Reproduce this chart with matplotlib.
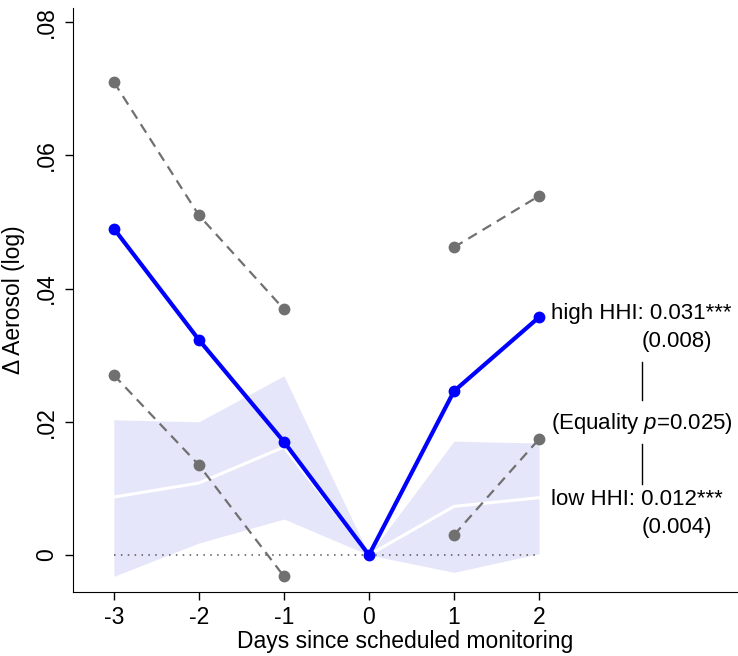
import numpy as np
import matplotlib
matplotlib.use("Agg")
import matplotlib.pyplot as plt

plt.rcParams["font.family"] = ["Liberation Sans", "DejaVu Sans"]
plt.rcParams["mathtext.fontset"] = "custom"
plt.rcParams["mathtext.rm"] = "Liberation Sans"
plt.rcParams["mathtext.it"] = "Liberation Sans:italic"
plt.rcParams["axes.unicode_minus"] = False

# days relative to scheduled monitoring
days = [-3, -2, -1, 0, 1, 2]

# high HHI: point estimates and CI bounds (no bounds at day 0)
high_coef = [0.049, 0.0323, 0.0170, 0.0, 0.0246, 0.0357]
high_upper = [0.0710, 0.0510, 0.0369, np.nan, 0.0462, 0.0539]
high_lower = [0.0270, 0.0135, -0.0032, np.nan, 0.0030, 0.0174]

# low HHI: point estimates and CI band
low_coef = [0.0087, 0.0108, 0.0162, 0.0, 0.0073, 0.0086]
low_upper = [0.0203, 0.0200, 0.0269, 0.0, 0.0171, 0.0168]
low_lower = [-0.0032, 0.0018, 0.0054, 0.0, -0.0026, 0.0002]

yticks = [0, 0.02, 0.04, 0.06, 0.08]
ytick_labels = ["0", ".02", ".04", ".06", ".08"]

fig = plt.figure(figsize=(7.38, 6.56), dpi=100)
ax = fig.add_axes([0.099, 0.0976, 0.901, 0.890])

# low HHI band + line
ax.fill_between(days, low_lower, low_upper, color="#e6e6fa", linewidth=0, zorder=1)
ax.plot(days, low_coef, color="white", linewidth=2.2, zorder=2)

# zero reference
ax.plot([days[0], days[-1]], [0, 0], color="#555555", linestyle=(0, (1, 3.5)),
        linewidth=1.1, zorder=3)

# high HHI CI bounds
for bound in [high_upper, high_lower]:
    ax.plot(days, bound, color="#707070", linewidth=1.6, dashes=(4.5, 3.0),
            marker="o", markersize=8.5, markeredgewidth=0, zorder=4)

# high HHI estimates
ax.plot(days, high_coef, color="#0000ff", linewidth=3.0, marker="o",
        markersize=8.5, markeredgewidth=0, zorder=5)

# annotations
fs = 16
ax.text(2.14, 0.0362, "high HHI: 0.031***", fontsize=fs, va="center", ha="left")
ax.text(3.21, 0.0320, "(0.008)", fontsize=fs, va="center", ha="left")
ax.plot([3.21, 3.21], [0.0290, 0.0232], color="black", linewidth=1.0)
ax.text(2.14, 0.0198, "(Equality $\\mathit{p}$=0.025)", fontsize=fs, va="center", ha="left")
ax.plot([3.21, 3.21], [0.0166, 0.0107], color="black", linewidth=1.0)
ax.text(2.14, 0.0083, "low HHI: 0.012***", fontsize=fs, va="center", ha="left")
ax.text(3.21, 0.0041, "(0.004)", fontsize=fs, va="center", ha="left")

ax.set_xlim(-3.48, 4.34)
ax.set_ylim(-0.00555, 0.0821)
ax.set_xticks(days)
ax.set_xticklabels([str(d) for d in days])
ax.set_yticks(yticks)
ax.set_yticklabels(ytick_labels, rotation=90, va="center")

ax.spines["top"].set_visible(False)
ax.spines["right"].set_visible(False)
ax.tick_params(axis="both", labelsize=16.5, length=6, width=1.0, direction="out")
ax.tick_params(axis="y", pad=5)
ax.tick_params(axis="x", pad=4)

ax.set_xlabel("Days since scheduled monitoring", fontsize=16.5, labelpad=1)
ax.set_ylabel("Δ Aerosol (log)", fontsize=16.5, labelpad=7)

fig.savefig("out.png", dpi=100)
